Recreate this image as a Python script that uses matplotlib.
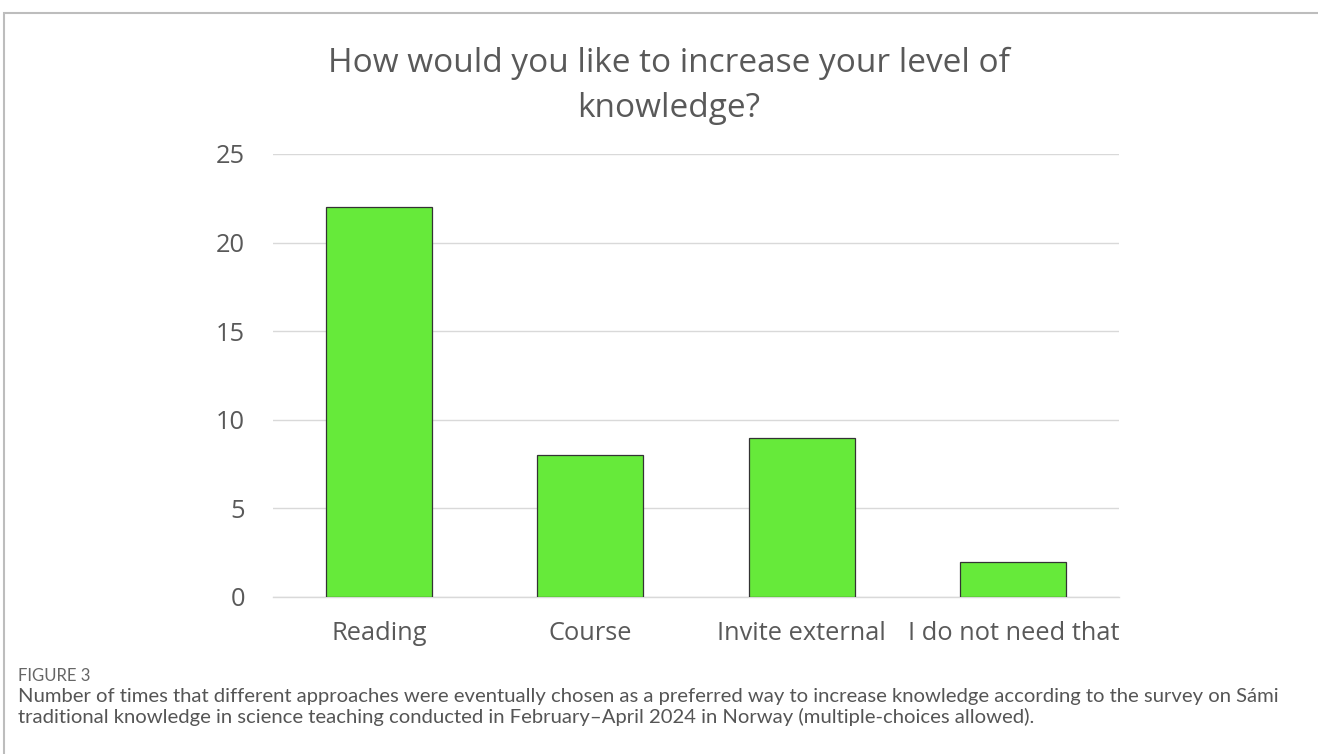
import matplotlib
matplotlib.use("Agg")
import matplotlib.pyplot as plt
from matplotlib.patches import Rectangle

# Survey responses
categories = ["Reading", "Course", "Invite external", "I do not need that"]
counts = [22, 8, 9, 2]
y_ticks = [0, 5, 10, 15, 20, 25]

title = "How would you like to increase your level of\nknowledge?"
fig_label = "FIGURE 3"
caption = ("Number of times that different approaches were eventually chosen as a preferred way to increase knowledge according to the survey on Sámi\n"
           "traditional knowledge in science teaching conducted in February\u2013April 2024 in Norway (multiple-choices allowed).")

W, H, DPI = 1318, 754, 100
fig = plt.figure(figsize=(W / DPI, H / DPI), dpi=DPI)
fig.patch.set_facecolor("white")

# Frame around the figure panel (top and left edges visible)
fig.patches.append(Rectangle((4 / W, -0.05), 1.2, 1 - 13 / H + 0.05,
                             transform=fig.transFigure, fill=False,
                             edgecolor="#bdbdbd", linewidth=1.5, zorder=0))

ax = fig.add_axes([273 / W, 1 - 597 / H, (1119 - 273) / W, (597 - 154) / H])
x = range(len(categories))
ax.bar(x, counts, width=0.5, color="#66ea3a", edgecolor="#333333",
       linewidth=0.9, zorder=3)

ax.set_xlim(-0.5, len(categories) - 0.5)
ax.set_ylim(0, 25)
ax.set_yticks(y_ticks)
ax.set_xticks(list(x))
ax.set_xticklabels(categories)
ax.yaxis.grid(True, color="#d9d9d9", linewidth=1.0, zorder=0)
ax.set_axisbelow(True)
for s in ["top", "right", "left"]:
    ax.spines[s].set_visible(False)
ax.spines["bottom"].set_color("#d9d9d9")
ax.spines["bottom"].set_linewidth(1.0)
ax.tick_params(axis="both", length=0, labelsize=18.3, labelcolor="#595959")
ax.tick_params(axis="y", pad=20)
ax.tick_params(axis="x", pad=17)
for lab in ax.get_xticklabels() + ax.get_yticklabels():
    lab.set_fontfamily("Open Sans")

fig.text(669 / W, 1 - 86 / H, title, ha="center", va="center",
         fontsize=24, color="#595959", family="Open Sans", linespacing=1.5)

fig.text(18 / W, 1 - 676 / H, fig_label, ha="left", va="center",
         fontsize=12, color="#666666", family="Lato")
fig.text(18 / W, 1 - 707 / H, caption, ha="left", va="center",
         fontsize=14.55, color="#555555", family="Lato", linespacing=1.2)

fig.savefig("out.png", dpi=DPI)
